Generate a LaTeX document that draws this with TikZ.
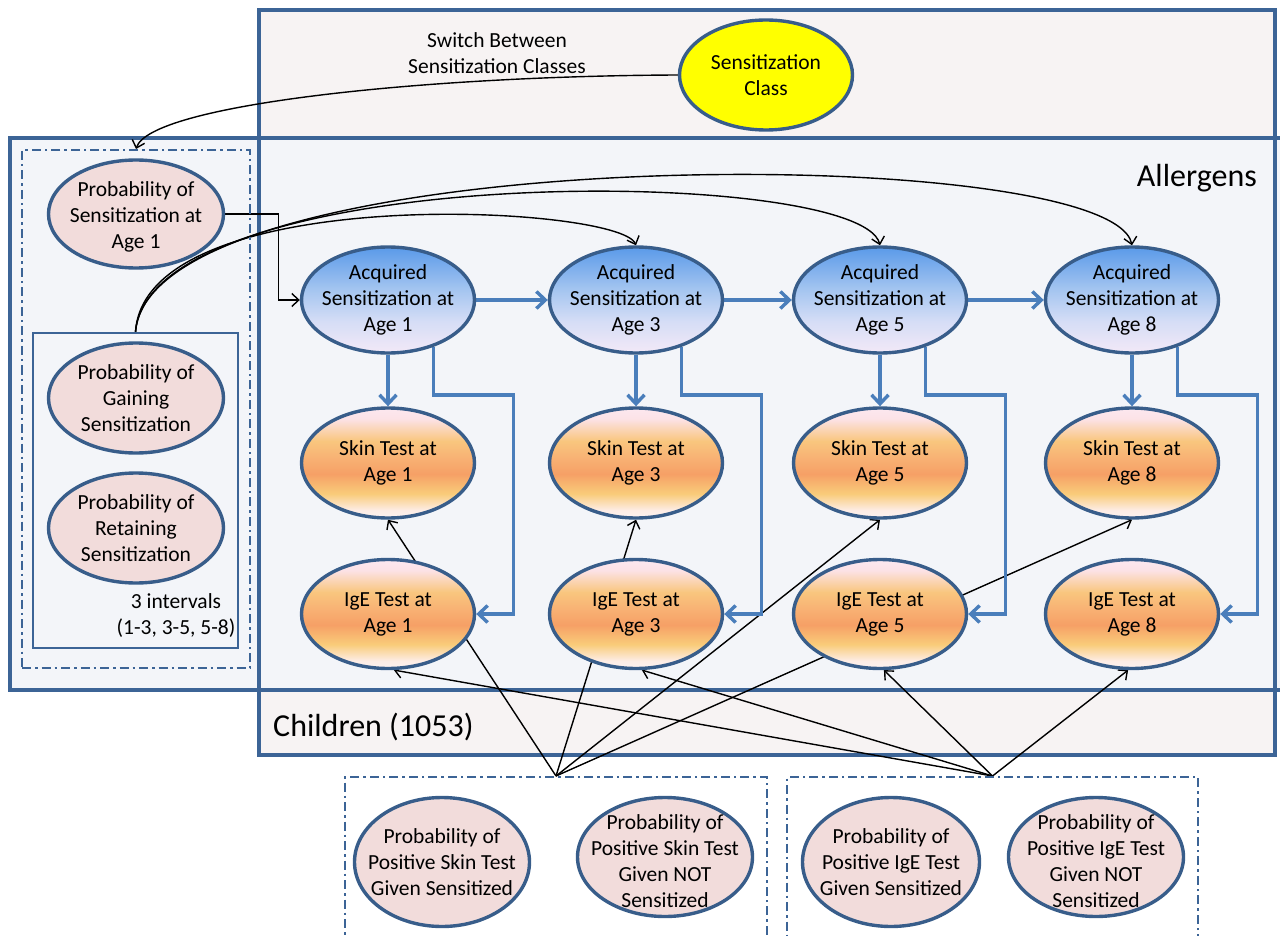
\documentclass[tikz,border=0pt]{standalone}
\usepackage{fontspec}
\setmainfont{Carlito}
\usetikzlibrary{shapes.geometric,arrows.meta,calc}
\definecolor{plateC}{HTML}{3C6496}
\definecolor{ebord}{HTML}{385D8A}
\definecolor{pinkF}{HTML}{F2DCDB}
\definecolor{yellowF}{HTML}{FFFF00}
\definecolor{bluA}{HTML}{4A7EBB}
\definecolor{chfill}{HTML}{F7F3F3}
\definecolor{alfill}{HTML}{F3F5F9}
\definecolor{acqB}{HTML}{F3E9F7}
\definecolor{acqM1}{HTML}{D5DDF6}
\definecolor{acqM2}{HTML}{A4C5F0}
\definecolor{acqT}{HTML}{5A9AE9}
\definecolor{orA}{HTML}{FEF2F0}
\definecolor{orB}{HTML}{FDEDE6}
\definecolor{orC}{HTML}{F9CC7A}
\definecolor{orD}{HTML}{F6A066}
\definecolor{orE}{HTML}{F8B274}
\definecolor{orF}{HTML}{F9C67E}
\definecolor{orG}{HTML}{FCE2E6}
\definecolor{orH}{HTML}{FCE8F0}
\pgfdeclareverticalshading{acqshade}{100bp}{color(0bp)=(acqB); color(25bp)=(acqB); color(40bp)=(acqM1); color(55bp)=(acqM2); color(75bp)=(acqT); color(100bp)=(acqT)}
\pgfdeclareverticalshading{orshade}{100bp}{color(0bp)=(orA); color(25bp)=(orA); color(28.5bp)=(orB); color(36bp)=(orC); color(45bp)=(orD); color(52.5bp)=(orE); color(60bp)=(orF); color(70bp)=(orG); color(75bp)=(orH); color(100bp)=(orH)}
\pgfdeclarelayer{plates}
\pgfdeclarelayer{edges}
\pgfsetlayers{plates,edges,main}
\begin{document}
\begin{tikzpicture}[x=1pt,y=-1pt,
 plate/.style={draw=plateC, line width=3.3pt},
 en/.style={ellipse, draw=ebord, line width=3.4pt, inner sep=0pt},
 txt/.style={align=center, font=\fontsize{21.5}{26}\selectfont, inner sep=0pt, text=black},
 bigtxt/.style={font=\fontsize{32}{38}\selectfont, inner sep=0pt, text=black},
 pinknode/.style={en, fill=pinkF},
 acqnode/.style={en, shade, shading=acqshade, minimum width=173pt, minimum height=106pt},
 testnode/.style={en, shade, shading=orshade, minimum width=173pt, minimum height=110pt},
 dbx/.style={rectangle, draw=plateC, line width=2pt, dash pattern=on 9pt off 4pt on 2.5pt off 4pt, inner sep=0pt},
 sbx/.style={rectangle, draw=plateC, line width=2pt, inner sep=0pt},
 blk/.style={draw=black, line width=1.4pt, -{Straight Barb[length=7pt,width=13pt]}},
 blu/.style={draw=bluA, line width=3.4pt, -{Straight Barb[length=9pt,width=17pt]}}]
\useasboundingbox (0,0) rectangle (1280,936);

% plates
\begin{pgfonlayer}{plates}
\fill[chfill] (259,10) rectangle (1275,755);
\fill[alfill] (10,138) rectangle (1290,690);
\draw[plate] (259,10) rectangle (1275,755);
\draw[plate] (10,138) rectangle (1290,690);
\end{pgfonlayer}

% labels of plates
\node[bigtxt, anchor=east] (allerg) at (1257,178) {Allergens};
\node[bigtxt, anchor=west] (child) at (273,727) {Children (1053)};
\node[txt] (switch) at (497,53) {Switch Between\\Sensitization Classes};

% boxes
\node[dbx, minimum width=228pt, minimum height=518pt] (dbox) at (136,409) {};
\node[sbx, minimum width=205pt, minimum height=315pt] (ibox) at (135.5,490.5) {};
\node[dbx, minimum width=422pt, minimum height=223pt] (box1) at (556,888.5) {};
\node[dbx, minimum width=411pt, minimum height=223pt] (box2) at (992.5,888.5) {};
\node[txt] (intv) at (176,616) {3 intervals\\(1-3, 3-5, 5-8)};

% nodes
\node[en, fill=yellowF, minimum width=173pt, minimum height=110pt, label={[txt]center:{Sensitization\\Class}}] (sclass) at (766,75) {};
\node[pinknode, minimum width=175pt, minimum height=108pt, label={[txt, yshift=-3pt]center:{Probability of\\Sensitization at\\Age 1}}] (psens) at (136,214) {};
\node[pinknode, minimum width=175pt, minimum height=110pt, label={[txt]center:{Probability of\\Gaining\\Sensitization}}] (pgain) at (136,398) {};
\node[pinknode, minimum width=175pt, minimum height=110pt, label={[txt]center:{Probability of\\Retaining\\Sensitization}}] (pret) at (136,528) {};

\foreach \n/\x in {1/388,3/636,5/880,8/1132}{
 \node[acqnode, label={[txt]center:{Acquired\\Sensitization at\\Age \n}}] (acq\n) at (\x,300) {};
 \node[testnode, label={[txt]center:{Skin Test at\\Age \n}}] (skin\n) at (\x,463) {};
 \node[testnode, minimum height=109pt, label={[txt]center:{IgE Test at\\Age \n}}] (ige\n) at (\x,614) {};
}

\node[pinknode, minimum width=175pt, minimum height=129pt, label={[txt]center:{Probability of\\Positive Skin Test\\Given Sensitized}}] (pss) at (442,862) {};
\node[pinknode, minimum width=175pt, minimum height=119pt, label={[txt, yshift=-4pt]center:{Probability of\\Positive Skin Test\\Given NOT\\Sensitized}}] (psn) at (665,857) {};
\node[pinknode, minimum width=177pt, minimum height=129pt, label={[txt]center:{Probability of\\Positive IgE Test\\Given Sensitized}}] (pis) at (891,862) {};
\node[pinknode, minimum width=175pt, minimum height=119pt, label={[txt, yshift=-4pt]center:{Probability of\\Positive IgE Test\\Given NOT\\Sensitized}}] (pin) at (1096,857) {};

% edges
\begin{pgfonlayer}{edges}
\draw[blk] (sclass.west) .. controls (420,76) and (150,105) .. (dbox.north);
\draw[blk] (psens.east) -- ++(53,0) |- (acq1.west);
\draw[blk] (ibox.north) .. controls (145,180) and (620,205) .. (acq3.north);
\draw[blk] (ibox.north) .. controls (150,160) and (860,165) .. (acq5.north);
\draw[blk] (ibox.north) .. controls (150,140) and (1110,140) .. (acq8.north);
\foreach \n in {1,3,5,8}{
 \draw[blk] (box1.north) -- (skin\n.south);
}
\draw[blk] (box2.north) -- (ige1.-84);
\draw[blk] (box2.north) -- (ige3.-84);
\draw[blk] (box2.north) -- (ige5.-86);
\draw[blk] (box2.north) -- (ige8.-94);
\draw[blu] (acq1.east) -- (acq3.west);
\draw[blu] (acq3.east) -- (acq5.west);
\draw[blu] (acq5.east) -- (acq8.west);
\foreach \n in {1,3,5,8}{
 \draw[blu] (acq\n.south) -- (skin\n.north);
 \draw[blu] (acq\n.-46) -- ++(0,48) -- ++(80,0) |- (ige\n.east);
}
\end{pgfonlayer}
\end{tikzpicture}
\end{document}
